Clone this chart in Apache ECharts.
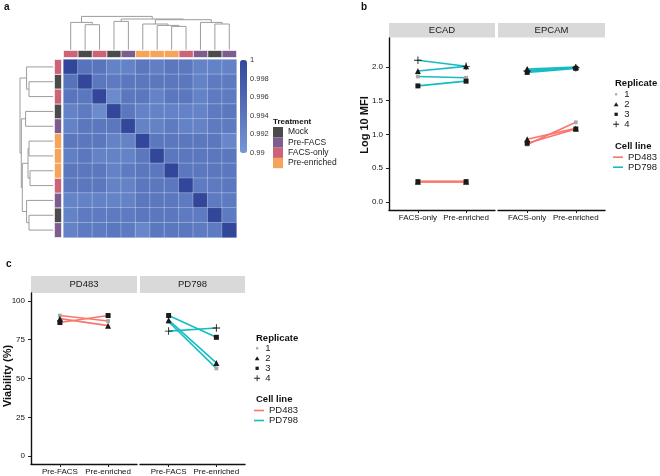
<!DOCTYPE html>
<html>
<head>
<meta charset="utf-8">
<script src="https://cdn.jsdelivr.net/npm/echarts@6/dist/echarts.min.js"></script>
<style>
  html, body { margin: 0; padding: 0; background: #fff; }
  #chart { width: 660px; height: 476px; }
</style>
</head>
<body>
<div id="chart"></div>
<script>
// ---- panel a data ----
var sampleTreatment = ['FACS-only', 'Mock', 'FACS-only', 'Mock', 'Pre-FACS', 'Pre-enriched',
  'Pre-enriched', 'Pre-enriched', 'FACS-only', 'Pre-FACS', 'Mock', 'Pre-FACS'];
var treatments = ['Mock', 'Pre-FACS', 'FACS-only', 'Pre-enriched'];
// correlation matrix, rows/cols in dendrogram order
var corr = [
  [1.000, .9945, .9942, .9925, .9925, .9940, .9930, .9940, .9938, .9924, .9925, .9925],
  [.9945, 1.000, .9940, .9935, .9940, .9940, .9940, .9940, .9940, .9925, .9935, .9935],
  [.9942, .9940, 1.000, .9915, .9940, .9940, .9925, .9940, .9940, .9925, .9935, .9935],
  [.9925, .9935, .9915, 1.000, .9940, .9925, .9925, .9925, .9925, .9924, .9935, .9940],
  [.9925, .9940, .9940, .9940, 1.000, .9925, .9925, .9935, .9925, .9925, .9935, .9935],
  [.9940, .9940, .9940, .9925, .9925, 1.000, .9940, .9940, .9940, .9940, .9940, .9920],
  [.9930, .9940, .9925, .9925, .9925, .9940, 1.000, .9940, .9940, .9940, .9940, .9940],
  [.9940, .9940, .9940, .9925, .9935, .9940, .9940, 1.000, .9940, .9940, .9940, .9940],
  [.9938, .9940, .9940, .9925, .9925, .9940, .9940, .9940, 1.000, .9935, .9935, .9940],
  [.9924, .9925, .9925, .9924, .9925, .9940, .9940, .9940, .9935, 1.000, .9935, .9935],
  [.9925, .9935, .9935, .9935, .9935, .9940, .9940, .9940, .9935, .9935, 1.000, .9935],
  [.9925, .9935, .9935, .9940, .9935, .9920, .9940, .9940, .9940, .9935, .9935, 1.000]
];
// hclust style merges: negative = leaf (-(i+1)), positive = earlier merge number
var colMerges = [
  [-2, -3, 25], [-1, 1, 27.3], [-4, -5, 28.3], [-8, -9, 23.3], [-7, 4, 24.3], [-6, 5, 25.7],
  [-11, -12, 25.7], [-10, 7, 27.3], [6, 8, 30], [3, 9, 30.7], [2, 10, 33.3]
];
var rowMerges = [
  [-2, -3, 24.3], [-1, 1, 26.7], [-4, -5, 27.7], [-6, -7, 24.3], [-8, -9, 23.3], [4, 5, 25.3],
  [-11, -12, 24.3], [-10, 7, 26.7], [6, 8, 31], [3, 9, 32], [2, 10, 33.3]
];
var colorbarTicks = [0.99, 0.992, 0.994, 0.996, 0.998, 1];

// ---- panel b data ----
var bConditions = ['FACS-only', 'Pre-enriched'];
var bMarkers = ['ECAD', 'EPCAM'];
var ecadPD483 = [[0.30, 0.30], [0.30, 0.30], [0.30, 0.30]];
var ecadPD798 = [[1.86, 1.84], [1.94, 2.01], [1.72, 1.79], [2.10, 2.01]];
var epcamPD483 = [[0.85, 1.18], [0.93, 1.09], [0.87, 1.08]];
var epcamPD798 = [[1.95, 1.99], [1.97, 2.00], [1.92, 1.98], [1.94, 1.99]];
var bTicks = [0, 0.5, 1, 1.5, 2];

// ---- panel c data ----
var cConditions = ['Pre-FACS', 'Pre-enriched'];
var cLines = ['PD483', 'PD798'];
var viaPD483 = [[90.5, 87], [88.5, 84], [86, 90.5]];
var viaPD798 = [[86.5, 56.5], [87.5, 60], [90.5, 76.5], [80.5, 82.5]];
var cTicks = [0, 25, 50, 75, 100];

var replicates = ['1', '2', '3', '4'];
var cellLines = ['PD483', 'PD798'];

// ---- styles ----
var FONT = 'Liberation Sans';
var treatColor = { 'Mock': '#4b4b4b', 'Pre-FACS': '#7d5c8e', 'FACS-only': '#cc6479', 'Pre-enriched': '#f6a35b' };
var lineColor = { 'PD483': '#f8766d', 'PD798': '#16bcc4' };
var plusPath = 'path://M4.4,0H5.6V4.4H10V5.6H5.6V10H4.4V5.6H0V4.4H4.4Z';
var repStyle = {
  '1': { symbol: 'rect', size: 3.8, color: '#a8a8a8' },
  '2': { symbol: 'triangle', size: 6, color: '#1a1a1a' },
  '3': { symbol: 'rect', size: 5, color: '#1a1a1a' },
  '4': { symbol: plusPath, size: 7.5, color: '#1a1a1a' }
};

var sampleIds = sampleTreatment.map(function (t, i) { return t + ' #' + (i + 1); });

function dendroSegments(merges) {
  var pos = [], segs = [];
  merges.forEach(function (m) {
    var get = function (k) { return k < 0 ? { x: -k - 0.5, h: 0 } : pos[k - 1]; };
    var A = get(m[0]), B = get(m[1]);
    segs.push([A.x, B.x, A.h, B.h, m[2]]);
    pos.push({ x: (A.x + B.x) / 2, h: m[2] });
  });
  return segs;
}

function dendroRender(vertical) {
  return function (params, api) {
    var p = function (leafPos, h) { return vertical ? api.coord([leafPos, h]) : api.coord([h, leafPos]); };
    var x1 = api.value(0), x2 = api.value(1);
    return {
      type: 'polyline',
      shape: { points: [p(x1, api.value(2)), p(x1, api.value(4)), p(x2, api.value(4)), p(x2, api.value(3))] },
      style: { stroke: '#9c9c9c', lineWidth: 1, fill: null }
    };
  };
}

function annotRender(params, api) {
  var c = api.coord([api.value(0), api.value(1)]);
  var s = api.size([1, 1]);
  return {
    type: 'rect',
    shape: { x: c[0] - s[0] / 2, y: c[1] - s[1] / 2, width: s[0], height: s[1] },
    style: { fill: api.visual('color'), stroke: '#fff', lineWidth: 0.6 }
  };
}

var heatData = [];
corr.forEach(function (row, r) {
  row.forEach(function (v, c) { heatData.push([c, r, v]); });
});

var grids = [
  { left: 63.5, top: 59.5, width: 173, height: 178 },   // 0 heatmap
  { left: 63.5, top: 50.5, width: 173, height: 7 },     // 1 top annotation
  { left: 54.5, top: 59.5, width: 7, height: 178 },     // 2 left annotation
  { left: 63.5, top: 12, width: 173, height: 37.7 },    // 3 top dendrogram
  { left: 14, top: 59.5, width: 39.3, height: 178 },    // 4 left dendrogram
  { left: 240, top: 60, width: 7, height: 93 },         // 5 colorbar labels
  { left: 389, top: 38, width: 106, height: 172 },      // 6 b ECAD
  { left: 498, top: 38, width: 107, height: 172 },      // 7 b EPCAM
  { left: 31, top: 293, width: 106, height: 171 },      // 8 c PD483
  { left: 140, top: 293, width: 105, height: 171 }      // 9 c PD798
];

function hid(type, gi, extra) {
  var a = { type: type, gridIndex: gi, show: false };
  for (var k in extra) a[k] = extra[k];
  return a;
}

function condAxis(gi, conds) {
  return {
    type: 'value', gridIndex: gi, min: 0.4, max: 2.6,
    axisLine: { onZero: false, lineStyle: { color: '#111', width: 1.4 } },
    axisTick: { customValues: [1, 2], length: 3, lineStyle: { color: '#222' } },
    axisLabel: { customValues: [1, 2], formatter: function (v) { return conds[Math.round(v) - 1]; },
      fontSize: 8, color: '#111', margin: 4, fontFamily: FONT },
    splitLine: { show: false }
  };
}

function measureAxis(gi, min, max, ticks, fmt, visible) {
  return {
    type: 'value', gridIndex: gi, min: min, max: max, show: visible,
    axisLine: { show: true, onZero: false, lineStyle: { color: '#111', width: 1.4 } },
    axisTick: { show: true, customValues: ticks, length: 3, lineStyle: { color: '#222' } },
    axisLabel: { customValues: ticks, formatter: fmt, fontSize: 8, color: '#111', margin: 6, fontFamily: FONT },
    splitLine: { show: false }
  };
}

var xAxes = [
  hid('category', 0, { data: sampleIds }),
  hid('category', 1, { data: sampleIds }),
  hid('category', 2, { data: ['treatment'] }),
  hid('value', 3, { min: 0, max: 12 }),
  hid('value', 4, { min: 0, max: 39.3, inverse: true }),
  hid('value', 5, { min: 0, max: 1 }),
  condAxis(6, bConditions),
  condAxis(7, bConditions),
  condAxis(8, cConditions),
  condAxis(9, cConditions)
];
var bFmt = function (v) { return v.toFixed(1); };
var cFmt = function (v) { return String(Math.round(v)); };
var yAxes = [
  hid('category', 0, { data: sampleIds, inverse: true }),
  hid('category', 1, { data: ['treatment'] }),
  hid('category', 2, { data: sampleIds, inverse: true }),
  hid('value', 3, { min: 0, max: 37.7 }),
  hid('value', 4, { min: 0, max: 12, inverse: true }),
  {
    type: 'value', gridIndex: 5, min: 0.99, max: 1, position: 'right',
    axisLine: { show: false }, axisTick: { show: false }, splitLine: { show: false },
    axisLabel: { customValues: colorbarTicks, margin: 3, fontSize: 7.5, color: '#333', fontFamily: FONT,
      formatter: function (v) { return String(parseFloat(v.toFixed(3))); } }
  },
  measureAxis(6, -0.12, 2.43, bTicks, bFmt, true),
  measureAxis(7, -0.12, 2.43, bTicks, bFmt, false),
  measureAxis(8, -5, 105, cTicks, cFmt, true),
  measureAxis(9, -5, 105, cTicks, cFmt, false)
];

var series = [{
  type: 'heatmap', xAxisIndex: 0, yAxisIndex: 0, data: heatData,
  itemStyle: { borderColor: 'rgba(255,255,255,0.28)', borderWidth: 1 },
  emphasis: { disabled: true }
}];

treatments.forEach(function (t) {
  var topData = [], leftData = [];
  sampleTreatment.forEach(function (s, i) {
    if (s === t) { topData.push([i, 0]); leftData.push([0, i]); }
  });
  series.push({ type: 'custom', name: t, xAxisIndex: 1, yAxisIndex: 1, data: topData,
    itemStyle: { color: treatColor[t] }, renderItem: annotRender });
  series.push({ type: 'custom', name: t, xAxisIndex: 2, yAxisIndex: 2, data: leftData,
    itemStyle: { color: treatColor[t] }, renderItem: annotRender });
});

series.push({ type: 'custom', xAxisIndex: 3, yAxisIndex: 3, data: dendroSegments(colMerges),
  renderItem: dendroRender(true), silent: true });
series.push({ type: 'custom', xAxisIndex: 4, yAxisIndex: 4, data: dendroSegments(rowMerges),
  renderItem: dendroRender(false), silent: true });

var panels = [
  { grid: 6, data: { PD483: ecadPD483, PD798: ecadPD798 } },
  { grid: 7, data: { PD483: epcamPD483, PD798: epcamPD798 } },
  { grid: 8, data: { PD483: viaPD483 } },
  { grid: 9, data: { PD798: viaPD798 } }
];

panels.forEach(function (p) {
  cellLines.forEach(function (cl) {
    (p.data[cl] || []).forEach(function (vals) {
      series.push({
        type: 'line', name: cl, xAxisIndex: p.grid, yAxisIndex: p.grid,
        data: [[1, vals[0]], [2, vals[1]]], symbol: 'none',
        lineStyle: { color: lineColor[cl], width: 1.6 }, itemStyle: { color: lineColor[cl] },
        z: 2, silent: true
      });
    });
  });
  replicates.forEach(function (rep, ri) {
    var pts = [];
    cellLines.forEach(function (cl) {
      var rows = p.data[cl] || [];
      if (rows[ri]) { pts.push([1, rows[ri][0]]); pts.push([2, rows[ri][1]]); }
    });
    var st = repStyle[rep];
    series.push({
      type: 'scatter', name: rep, xAxisIndex: p.grid, yAxisIndex: p.grid, data: pts,
      symbol: st.symbol, symbolSize: st.size, itemStyle: { color: st.color, opacity: 1 },
      z: 3, silent: true
    });
  });
});

// legend keys: invisible corner points keep the key centred in a tall box
var rep1Icon = 'path://M0,0L0,0M8,12L8,12M2.6,4.6H5.4V7.4H2.6Z';
var triIcon = 'path://M0,0L0,0M8,12L8,12M4,3.3L7,8.4H1Z';
var sqIcon = 'path://M0,0L0,0M8,12L8,12M1.9,3.9H6.1V8.1H1.9Z';
var plusIcon = 'path://M0,0L0,0M8,12L8,12M3.45,2.2H4.55V5.45H7.8V6.55H4.55V9.8H3.45V6.55H0.2V5.45H3.45Z';
var lineIcon = 'path://M0,0L0,0M20,18L20,18M0,7.4H20V10.6H0Z';
function repLegend(left, top) {
  return {
    orient: 'vertical', left: left, top: top, padding: 0, itemWidth: 6.3, itemHeight: 9.4, itemGap: 0,
    selectedMode: false, textStyle: { fontSize: 9.5, color: '#1a1a1a', fontFamily: FONT },
    data: [{ name: '1', icon: rep1Icon }, { name: '2', icon: triIcon }, { name: '3', icon: sqIcon },
      { name: '4', icon: plusIcon }]
  };
}
function lineLegend(left, top) {
  return {
    orient: 'vertical', left: left, top: top, padding: 0, itemWidth: 10, itemHeight: 9, itemGap: 0,
    selectedMode: false, textStyle: { fontSize: 9.5, color: '#1a1a1a', fontFamily: FONT },
    data: cellLines.map(function (n) { return { name: n, icon: lineIcon }; })
  };
}

function label(x, y, text, size, bold, extra) {
  var g = { type: 'text', x: x, y: y, style: { text: text, fontSize: size, fontFamily: FONT,
    fontWeight: bold ? 'bold' : 'normal', fill: '#111', align: 'left', verticalAlign: 'middle' } };
  for (var k in extra) g[k] = extra[k];
  return g;
}
function strip(x, y, w, h, text) {
  return [
    { type: 'rect', shape: { x: x, y: y, width: w, height: h }, style: { fill: '#d9d9d9' } },
    { type: 'text', x: x + w / 2, y: y + h / 2, style: { text: text, fontSize: 9.5, fontFamily: FONT,
      fill: '#1a1a1a', align: 'center', verticalAlign: 'middle' } }
  ];
}

var graphic = [
  label(4, 7, 'a', 10, true),
  label(361, 7, 'b', 10, true),
  label(6, 264, 'c', 10, true),
  label(273, 122, 'Treatment', 8, true),
  label(615, 83, 'Replicate', 9.5, true),
  label(615, 146, 'Cell line', 9.5, true),
  label(256, 338, 'Replicate', 9.5, true),
  label(256, 399, 'Cell line', 9.5, true),
  { type: 'text', x: 365, y: 125, rotation: Math.PI / 2,
    style: { text: 'Log 10 MFI', fontSize: 11, fontWeight: 'bold', fontFamily: FONT, fill: '#111',
      align: 'center', verticalAlign: 'middle' } },
  { type: 'text', x: 8, y: 376, rotation: Math.PI / 2,
    style: { text: 'Viability (%)', fontSize: 11, fontWeight: 'bold', fontFamily: FONT, fill: '#111',
      align: 'center', verticalAlign: 'middle' } }
].concat(strip(389, 23, 106, 14.5, bMarkers[0]), strip(498, 23, 107, 14.5, bMarkers[1]),
  strip(31, 276, 106, 17, cLines[0]), strip(140, 276, 105, 17, cLines[1]));

var option = {
  animation: false,
  backgroundColor: '#fff',
  textStyle: { fontFamily: FONT },
  grid: grids,
  xAxis: xAxes,
  yAxis: yAxes,
  visualMap: {
    type: 'continuous', seriesIndex: 0, min: 0.99, max: 1, orient: 'vertical',
    left: 240, top: 60, itemWidth: 7, itemHeight: 93, padding: 0,
    calculable: false, hoverLink: false, text: null,
    inRange: { color: ['#7597d6', '#33479a'] }
  },
  legend: [
    {
      orient: 'vertical', left: 273, top: 127, padding: 0, itemWidth: 10, itemHeight: 10.3, itemGap: 0,
      icon: 'rect', selectedMode: false, textStyle: { fontSize: 8.5, color: '#1a1a1a', fontFamily: FONT },
      data: treatments
    },
    repLegend(613, 89.3),
    lineLegend(613, 152.2),
    repLegend(254, 343.3),
    lineLegend(254, 405.5)
  ],
  graphic: graphic,
  series: series
};

var chart = echarts.init(document.getElementById('chart'), null, { renderer: 'canvas' });
chart.setOption(option);
</script>
</body>
</html>
